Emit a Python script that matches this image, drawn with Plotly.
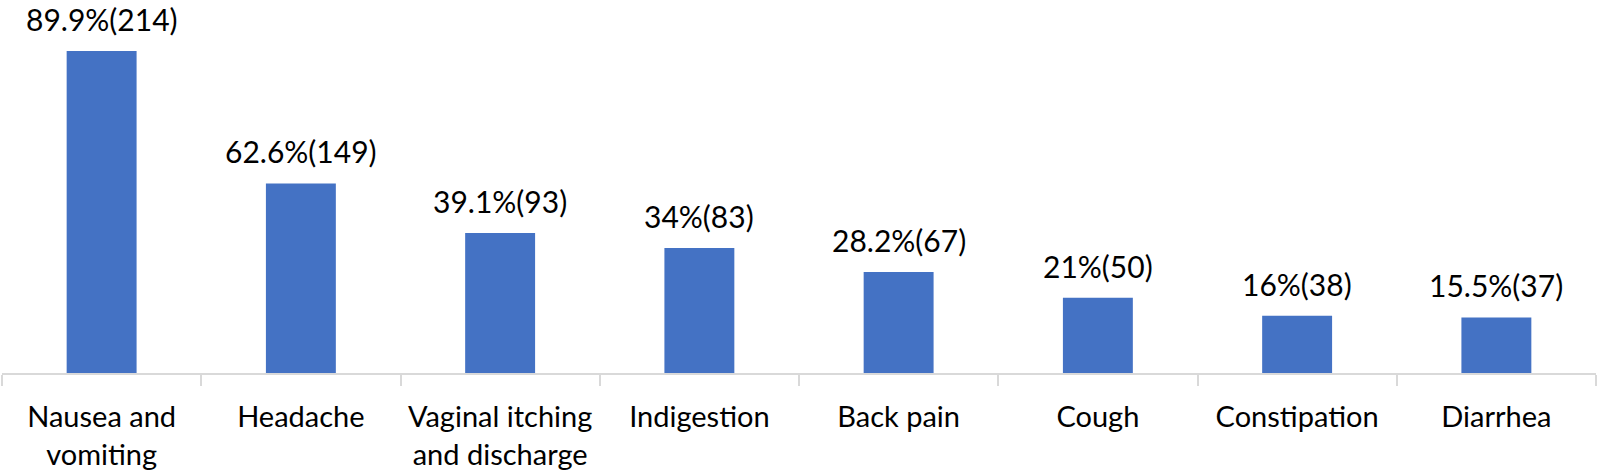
import plotly.graph_objects as go

categories = ["Nausea and<br>vomiting", "Headache", "Vaginal itching<br>and discharge",
              "Indigestion", "Back pain", "Cough", "Constipation", "Diarrhea"]
bar_heights = [89.9, 52.9, 39.1, 34.9, 28.2, 21.0, 16.0, 15.5]
bar_labels = ["89.9%(214)", "62.6%(149)", "39.1%(93)", "34%(83)",
              "28.2%(67)", "21%(50)", "16%(38)", "15.5%(37)"]

FONT = "Lato"

fig = go.Figure()
fig.add_trace(go.Bar(
    x=categories, y=bar_heights,
    marker=dict(color="#4472C4", line=dict(width=0)),
    hoverinfo="skip",
))

for c, h, t in zip(categories, bar_heights, bar_labels):
    fig.add_annotation(x=c, y=h, text=t, showarrow=False,
                       yanchor="bottom", yshift=13, borderpad=0,
                       font=dict(family=FONT, size=30, color="#000000"))

fig.update_layout(
    width=1600, height=472,
    margin=dict(l=2, r=4, t=0, b=99, autoexpand=False),
    paper_bgcolor="white", plot_bgcolor="white",
    bargap=0.649,
    showlegend=False,
    xaxis=dict(
        type="category", automargin=False,
        showline=True, linecolor="#d9d9d9", linewidth=2,
        ticks="outside", tickson="boundaries", ticklen=11, tickcolor="#d9d9d9", tickwidth=2,
        ticklabelstandoff=17,
        tickfont=dict(family=FONT, size=29, color="#000000"),
        showgrid=False,
    ),
    yaxis=dict(range=[0, 104.1], visible=False, showgrid=False, zeroline=False),
)

fig.write_html("out.html", config={"displayModeBar": False},
               post_script="document.body.style.margin='0';document.body.style.overflow='hidden';")
